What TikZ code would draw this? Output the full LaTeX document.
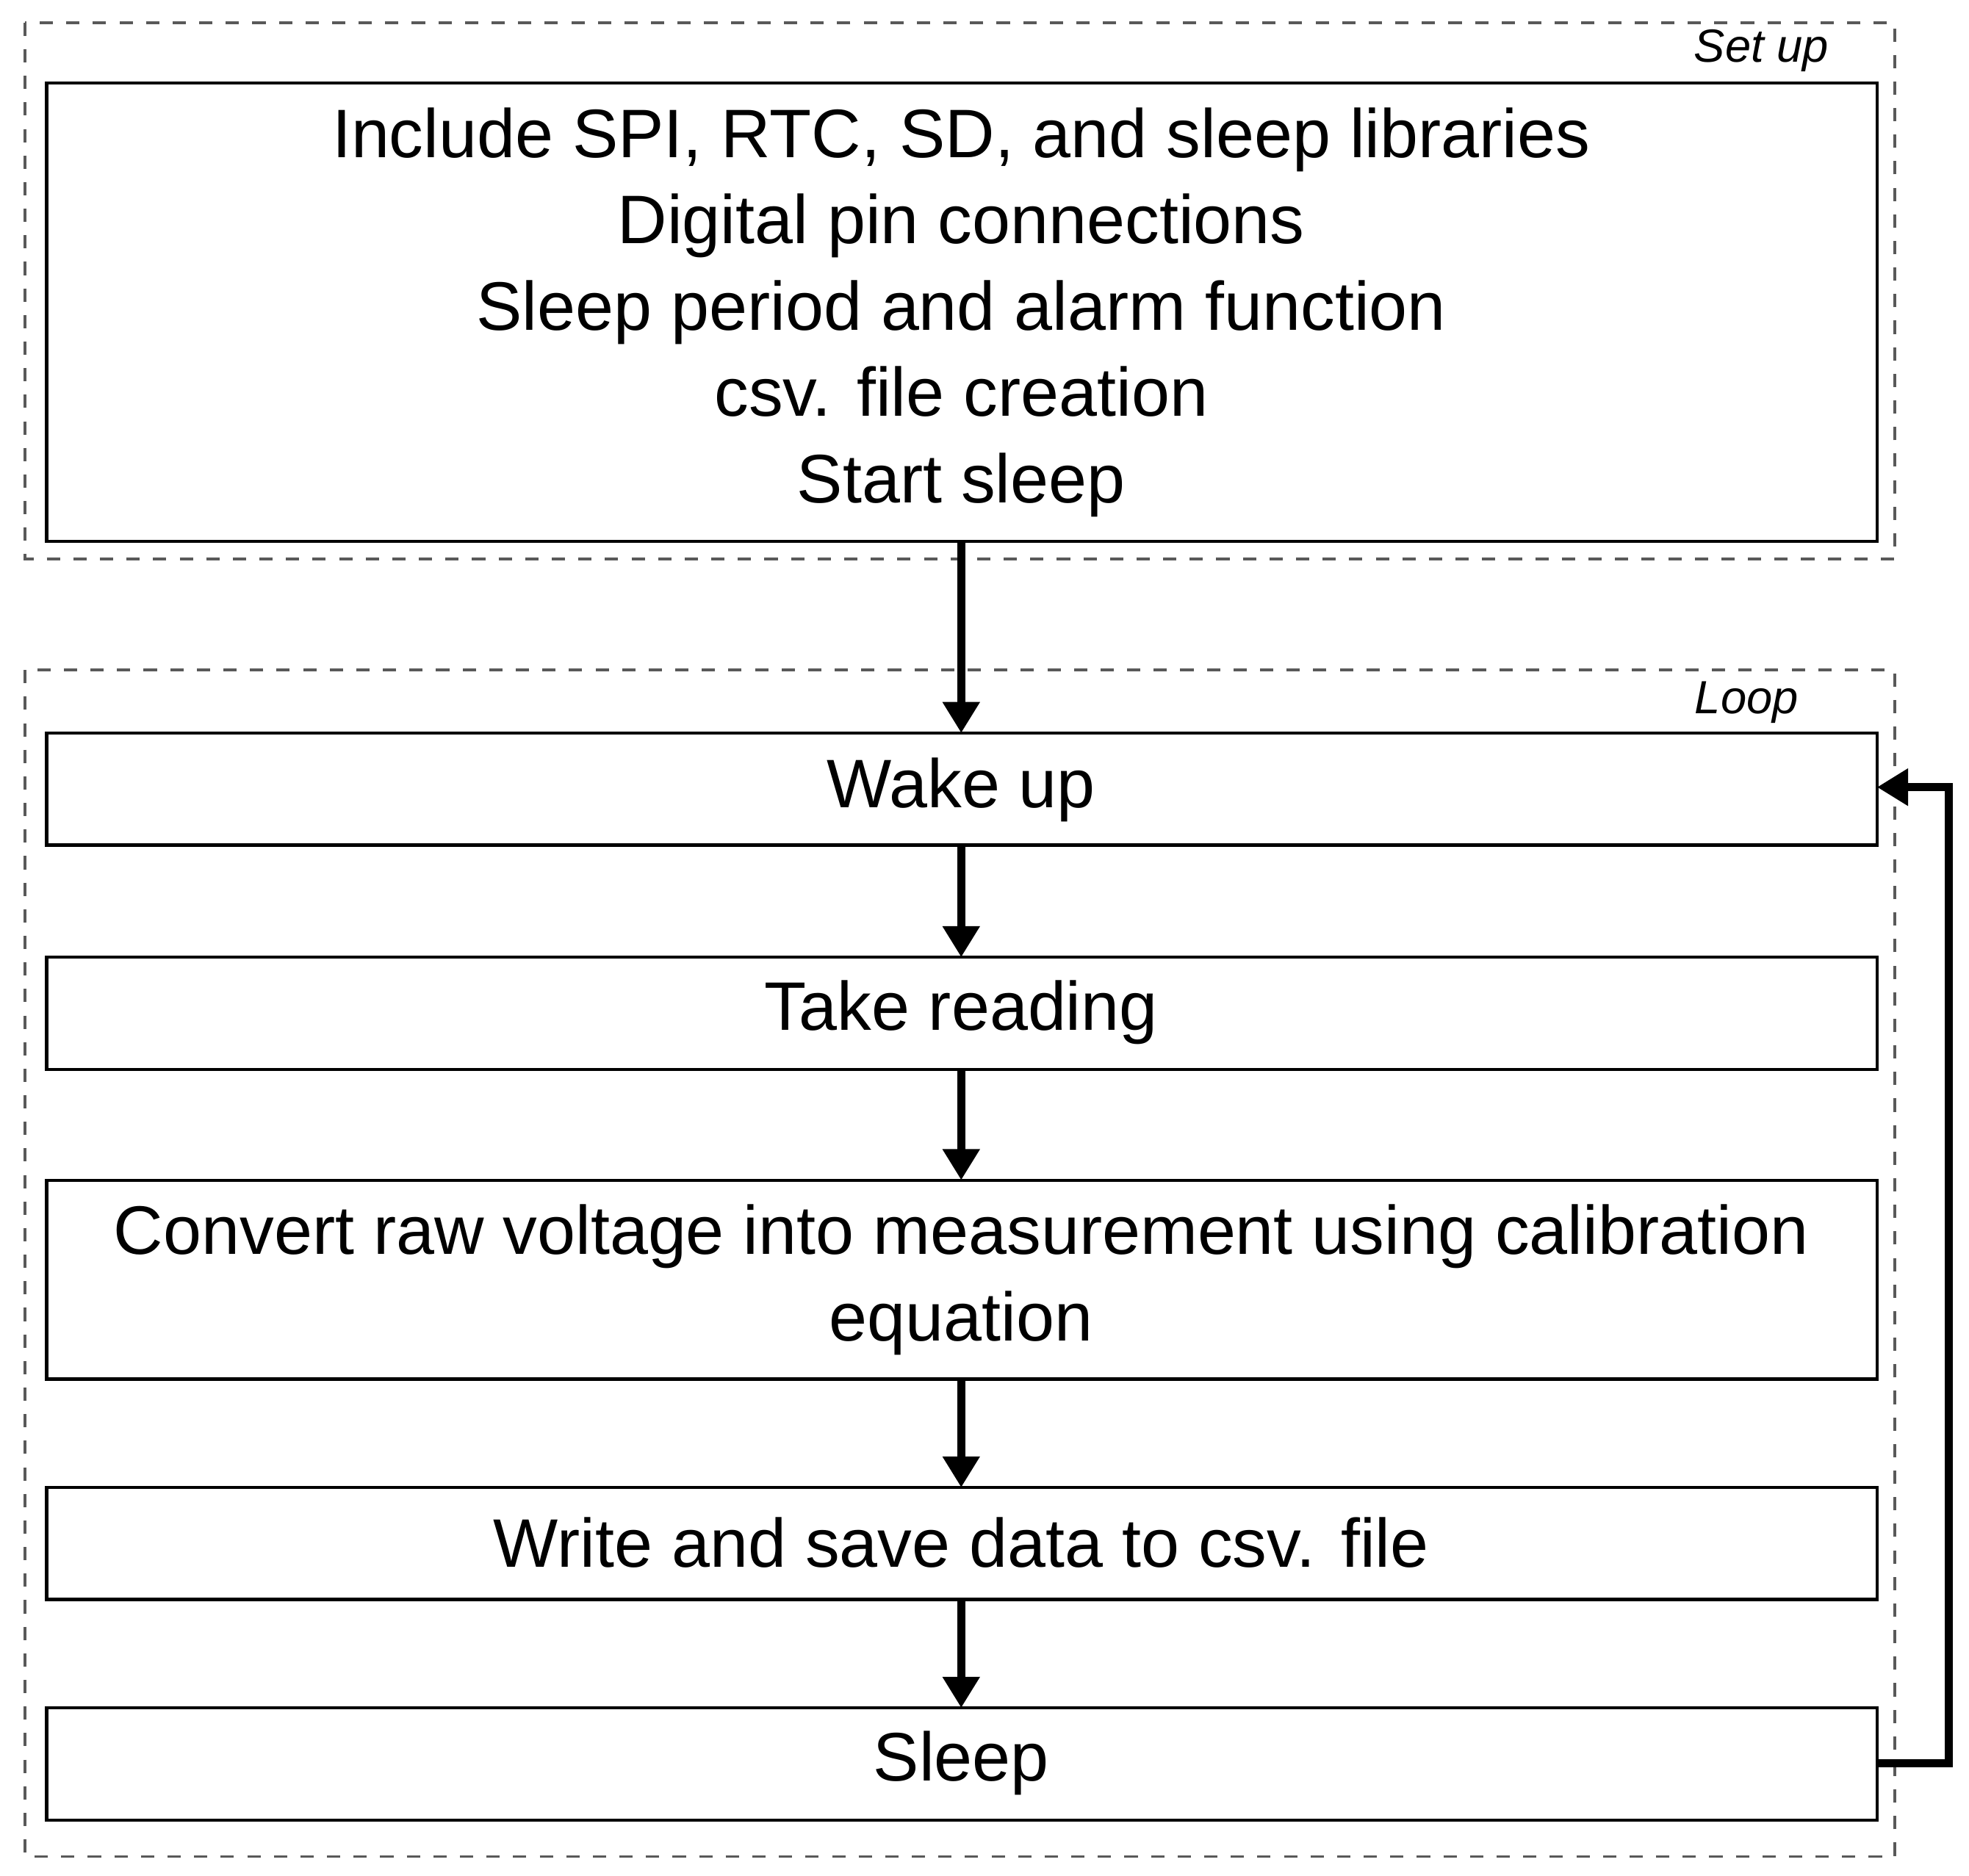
\documentclass[tikz,border=0pt]{standalone}
\usepackage{fontspec}
\setmainfont{Liberation Sans}
\usetikzlibrary{arrows.meta}
\begin{document}
\begin{tikzpicture}[x=0.01cm,y=-0.01cm,
  box/.style={draw,line width=0.7pt,inner sep=0pt},
  grp/.style={draw,dashed,line width=0.6pt,gray!70!black},
  arr/.style={line width=1.8pt,-{Triangle[length=7pt,width=8pt]}},
  txt/.style={font=\fontsize{15.5}{19.5}\selectfont,align=center},
  lbl/.style={font=\fontsize{10.5}{12}\selectfont\itshape,anchor=east}]
\useasboundingbox (0,0) rectangle (1563,1489);
\draw[grp] (20,18) rectangle (1504,444);
\draw[grp] (20,532) rectangle (1504,1474);
\node[lbl] (lsu) at (1464,40) {Set up};
\node[lbl] (llp) at (1440,558) {Loop};
\draw[box] (37,66) rectangle (1490,430);
\node[txt] (s) at (763,248) {Include SPI, RTC, SD, and sleep libraries\\Digital pin connections\\Sleep period and alarm function\\csv. file creation\\Start sleep};
\coordinate (sb) at (763,430);
\draw[box] (37,582) rectangle (1490,671); \node[txt] (w) at (763,627) {Wake up};
\draw[box] (37,760) rectangle (1490,849); \node[txt] (t) at (763,804) {Take reading};
\draw[box] (37,937) rectangle (1490,1095); \node[txt] (c) at (763,1016) {Convert raw voltage into measurement using calibration\\equation};
\draw[box] (37,1181) rectangle (1490,1270); \node[txt] (wr) at (763,1225) {Write and save data to csv. file};
\draw[box] (37,1356) rectangle (1490,1445); \node[txt] (sl) at (763,1400) {Sleep};
\draw[arr] (sb) -- (763,582);
\draw[arr] (763,671) -- (763,760);
\draw[arr] (763,849) -- (763,937);
\draw[arr] (763,1095) -- (763,1181);
\draw[arr] (763,1270) -- (763,1356);
\draw[arr] (1490,1400) -- (1547,1400) -- (1547,625) -- (1490,625);
\end{tikzpicture}
\end{document}
